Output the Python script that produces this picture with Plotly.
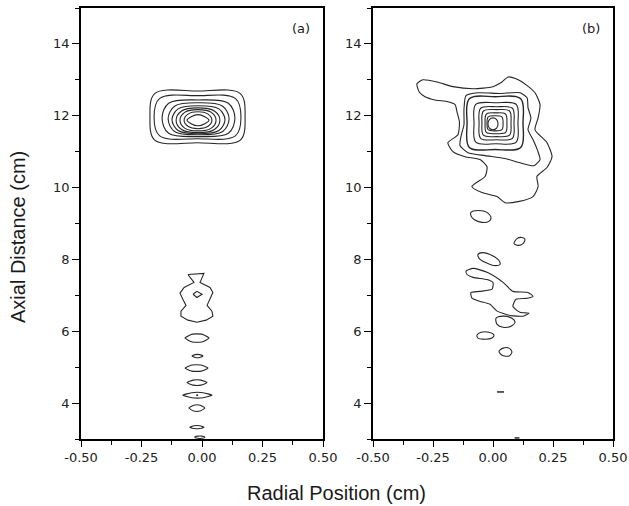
import plotly.graph_objects as go

# ---------------- Panel (a) data (cm) ----------------
a_core_x0 = [-0.215, -0.198, -0.165, -0.140, -0.124, -0.107, -0.091, -0.074, -0.062]
a_core_x1 = [0.178, 0.161, 0.136, 0.112, 0.095, 0.074, 0.058, 0.041, 0.029]
a_core_y0 = [11.25, 11.36, 11.42, 11.47, 11.50, 11.53, 11.58, 11.64, 11.72]
a_core_y1 = [12.69, 12.56, 12.44, 12.36, 12.28, 12.22, 12.17, 12.11, 12.03]
a_core_round = [0.90, 0.87, 0.82, 0.79, 0.77, 0.75, 0.74, 0.72, 0.62]

a_vase_x = [-0.058, 0.008, -0.008, 0.033, 0.045, 0.033, 0.021, 0.041, 0.045, 0.017,
            -0.021, -0.058, -0.087, -0.087, -0.066, -0.079, -0.091, -0.074, -0.033, -0.058]
a_vase_y = [7.58, 7.61, 7.36, 7.22, 7.08, 6.89, 6.72, 6.56, 6.42, 6.31,
            6.25, 6.31, 6.42, 6.56, 6.72, 6.89, 7.06, 7.22, 7.36, 7.58]
a_dot_x = [-0.037, -0.021, 0.000, -0.021, -0.037]
a_dot_y = [7.03, 7.11, 7.03, 6.94, 7.03]

a_lens_x0 = [-0.070, -0.041, -0.070, -0.062, -0.079, -0.054, -0.050, -0.030]
a_lens_x1 = [0.029, 0.004, 0.025, 0.021, 0.041, 0.012, 0.008, 0.012]
a_lens_y0 = [5.70, 5.27, 4.89, 4.50, 4.15, 3.78, 3.29, 3.02]
a_lens_y1 = [5.92, 5.35, 5.06, 4.64, 4.29, 3.94, 3.37, 3.08]
a_center_dot = ([-0.02], [4.22])

# ---------------- Panel (b) data (cm) ----------------
b_outer_x = [-0.158, -0.150, -0.140, -0.146, -0.188, -0.167, -0.117, -0.054, -0.025, -0.033,
             -0.088, -0.046, 0.017, 0.050, 0.104, 0.167, 0.188, 0.183, 0.225, 0.246,
             0.225, 0.175, 0.188, 0.196, 0.175, 0.138, 0.096, 0.0625, 0.0375, 0.000,
             -0.083, -0.167, -0.233, -0.292, -0.317, -0.308, -0.283, -0.242, -0.188, -0.158]
b_outer_y = [12.31, 12.11, 11.83, 11.47, 11.25, 11.00, 10.86, 10.78, 10.58, 10.31,
             10.03, 9.86, 9.75, 9.58, 9.61, 9.75, 10.03, 10.31, 10.56, 10.86,
             11.25, 11.61, 11.94, 12.31, 12.64, 12.86, 13.03, 13.08, 12.94, 12.81,
             12.75, 12.81, 12.94, 13.00, 12.89, 12.67, 12.53, 12.44, 12.39, 12.31]

b_second_x = [-0.1125, -0.0625, 0.029, 0.1125, 0.142, 0.146, 0.158, 0.146, 0.167, 0.1875,
              0.196, 0.171, 0.1125, 0.050, -0.033, -0.104, -0.1375, -0.133, -0.121, -0.121, -0.1125]
b_second_y = [12.56, 12.64, 12.62, 12.64, 12.50, 12.22, 11.94, 11.61, 11.33, 11.00,
              10.78, 10.61, 10.69, 10.81, 10.89, 10.97, 11.17, 11.44, 11.75, 12.17, 12.56]

b_sq_x0 = [-0.108, -0.079, -0.058, -0.046, -0.033, -0.025, -0.021]
b_sq_x1 = [0.125, 0.104, 0.0875, 0.075, 0.058, 0.042, 0.021]
b_sq_y0 = [11.06, 11.22, 11.33, 11.42, 11.50, 11.58, 11.61]
b_sq_y1 = [12.53, 12.36, 12.25, 12.17, 12.08, 12.00, 11.94]
b_sq_round = [0.92, 0.92, 0.91, 0.90, 0.88, 0.85, 0.72]

b_islands = [
    ([-0.092, -0.0625, -0.025, -0.008, -0.017, -0.046, -0.079, -0.092],
     [9.31, 9.36, 9.31, 9.17, 9.06, 9.03, 9.11, 9.22]),
    ([0.0875, 0.100, 0.121, 0.133, 0.125, 0.104],
     [8.44, 8.58, 8.61, 8.56, 8.44, 8.39]),
    ([-0.0625, -0.042, -0.004, 0.025, 0.029, 0.004, -0.033, -0.058],
     [8.14, 8.19, 8.11, 7.97, 7.86, 7.83, 7.92, 8.03]),
    ([0.0125, 0.042, 0.079, 0.092, 0.075, 0.042, 0.017],
     [6.36, 6.42, 6.36, 6.25, 6.14, 6.11, 6.19]),
    ([-0.067, -0.050, -0.017, 0.004, -0.004, -0.042, -0.0625],
     [5.89, 5.97, 5.97, 5.89, 5.81, 5.78, 5.81]),
    ([0.025, 0.042, 0.067, 0.079, 0.067, 0.0375],
     [5.44, 5.53, 5.53, 5.42, 5.31, 5.33]),
]
b_blob_x = [-0.1125, -0.083, -0.025, 0.042, 0.083, 0.146, 0.167, 0.142, 0.096, 0.083,
            0.1125, 0.150, 0.125, 0.071, 0.017, -0.0125, -0.054, -0.0875, -0.092, -0.054,
            -0.004, 0.000, -0.025, -0.083, -0.108]
b_blob_y = [7.67, 7.75, 7.64, 7.36, 7.11, 7.08, 6.97, 6.92, 6.89, 6.69,
            6.53, 6.50, 6.42, 6.44, 6.56, 6.75, 6.83, 6.92, 7.08, 7.11,
            7.17, 7.36, 7.44, 7.50, 7.58]
b_dashes = [([0.017, 0.046], [4.31, 4.31]), ([0.09, 0.11], [3.03, 3.03])]

LINE = "#262626"
fig = go.Figure()


def closed(xs, ys):
    return list(xs) + [xs[0]], list(ys) + [ys[0]]


def rounded_loop(x0, x1, y0, y1, k):
    xc, yc = (x0 + x1) / 2, (y0 + y1) / 2
    hx, hy = (x1 - x0) / 2, (y1 - y0) / 2
    xs = [xc, xc + k * hx, x1, xc + k * hx, xc, xc - k * hx, x0, xc - k * hx]
    ys = [y1, yc + k * hy, yc, yc - k * hy, y0, yc - k * hy, yc, yc + k * hy]
    return closed(xs, ys)


def lens(x0, x1, y0, y1):
    w = x1 - x0
    yc = (y0 + y1) / 2
    xs = [x0, x0 + 0.3 * w, x0 + 0.7 * w, x1, x0 + 0.7 * w, x0 + 0.3 * w]
    ys = [yc, y1, y1, yc, y0, y0]
    return closed(xs, ys)


def add(xs, ys, axis, shape="spline", smooth=1.0, width=1.1):
    xa, ya = axis
    line = dict(color=LINE, width=width, shape=shape)
    if shape == "spline":
        line["smoothing"] = smooth
    fig.add_trace(go.Scatter(x=xs, y=ys, mode="lines", line=line,
                             xaxis=xa, yaxis=ya, showlegend=False, hoverinfo="skip"))


A = ("x", "y")
B = ("x2", "y2")

for i in range(len(a_core_x0)):
    add(*rounded_loop(a_core_x0[i], a_core_x1[i], a_core_y0[i], a_core_y1[i], a_core_round[i]), A)
add(*closed(a_vase_x[:-1], a_vase_y[:-1]), A, shape="linear")
add(a_dot_x, a_dot_y, A, shape="linear")
for i in range(len(a_lens_x0)):
    add(*lens(a_lens_x0[i], a_lens_x1[i], a_lens_y0[i], a_lens_y1[i]), A, smooth=0.5)
fig.add_trace(go.Scatter(x=a_center_dot[0], y=a_center_dot[1], mode="markers",
                         marker=dict(color=LINE, size=2), xaxis="x", yaxis="y",
                         showlegend=False, hoverinfo="skip"))

add(*closed(b_outer_x[:-1], b_outer_y[:-1]), B, smooth=0.6)
add(*closed(b_second_x[:-1], b_second_y[:-1]), B, smooth=0.6)
for i in range(len(b_sq_x0)):
    add(*rounded_loop(b_sq_x0[i], b_sq_x1[i], b_sq_y0[i], b_sq_y1[i], b_sq_round[i]), B,
        width=1.4 if i == 0 else 1.1)
for xs, ys in b_islands:
    add(*closed(xs, ys), B, smooth=0.8)
add(*closed(b_blob_x, b_blob_y), B, smooth=0.6)
for xs, ys in b_dashes:
    add(xs, ys, B, shape="linear", width=1.5)

W, H = 629, 506
FONT = "Arial, Liberation Sans, sans-serif"
TICKFONT = "DejaVu Sans, Arial, sans-serif"
x_ticks = [-0.5, -0.25, 0.0, 0.25, 0.5]
x_text = ["-0.50", "-0.25", "0.00", "0.25", "0.50"]
x_minor = [-0.375, -0.125, 0.125, 0.375]
y_ticks = [4, 6, 8, 10, 12, 14]
y_minor = [3, 5, 7, 9, 11, 13, 15]


def px(x):
    return x / W


def py(y):
    return 1 - y / H


y_dom = [py(439), py(8)]


def xaxis(dom, anchor):
    return dict(domain=dom, anchor=anchor, range=[-0.5, 0.5], showgrid=False, zeroline=False,
                automargin=False, ticklabeloverflow="allow",
                showline=True, linecolor="black", linewidth=1.5, mirror=True,
                ticks="outside", ticklen=6, tickwidth=1.2, tickcolor="black",
                tickvals=x_ticks, ticktext=x_text,
                minor=dict(tickvals=x_minor, ticks="outside", ticklen=4, tickcolor="black", tickwidth=1.2),
                tickfont=dict(family=TICKFONT, size=13, color="#222"))


def yaxis(anchor):
    return dict(domain=y_dom, anchor=anchor, range=[3, 15], showgrid=False, zeroline=False,
                automargin=False,
                showline=True, linecolor="black", linewidth=1.5, mirror=True,
                ticks="outside", ticklen=7, tickwidth=1.2, tickcolor="black",
                tickvals=y_ticks, ticktext=[str(v) for v in y_ticks],
                minor=dict(tickvals=y_minor, ticks="outside", ticklen=4, tickcolor="black", tickwidth=1.2),
                tickfont=dict(family=TICKFONT, size=13, color="#222"))


def label(text, x, y, size, family, angle=0):
    return dict(text=text, x=px(x), y=py(y), xref="paper", yref="paper", showarrow=False,
                xanchor="center", yanchor="middle", textangle=angle,
                font=dict(family=family, size=size, color="#1a1a1a"))


fig.update_layout(
    width=W, height=H, autosize=False,
    margin=dict(l=0, r=0, t=0, b=0, pad=0, autoexpand=False),
    paper_bgcolor="white", plot_bgcolor="white",
    xaxis=xaxis([px(81), px(323)], "y"),
    yaxis=yaxis("x"),
    xaxis2=xaxis([px(373), px(613)], "y2"),
    yaxis2=yaxis("x2"),
    annotations=[
        label("(a)", 301, 28, 13, TICKFONT),
        label("(b)", 591, 28, 13, TICKFONT),
        label("Radial Position (cm)", 336, 493, 20, FONT),
        label("Axial Distance (cm)", 18, 237, 20, FONT, angle=-90),
    ],
)

# remove the browser's default 8 px page margin so the figure sits at the window origin
fig.write_html("out.html", config={"displayModeBar": False},
               post_script="document.body.style.margin='0';")
